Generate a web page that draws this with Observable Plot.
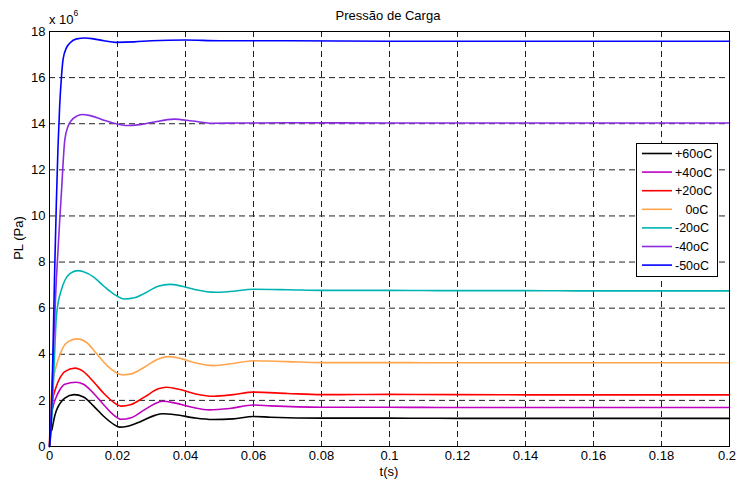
<!DOCTYPE html>
<html>
<head>
<meta charset="utf-8">
<script src="https://cdn.jsdelivr.net/npm/d3@7"></script>
<script src="https://cdn.jsdelivr.net/npm/@observablehq/plot@0.6"></script>
<style>
  html, body { margin: 0; padding: 0; background: #fff; }
  #chart { width: 736px; height: 481px; position: relative; }
</style>
</head>
<body>
<div id="chart"></div>
<script>
// ---- data (values in units of 10^6 Pa) ----
const seriesNames = ["+60oC", "+40oC", "+20oC", "   0oC", "-20oC", "-40oC", "-50oC"];
const seriesColors = ["#000000", "#bf00bf", "#ff0000", "#ffa54f", "#00b3b3", "#8a2be2", "#0000ff"];

const t60 = [0, 0.0003, 0.0007, 0.001, 0.0015, 0.002, 0.003, 0.0045, 0.0072, 0.01, 0.013, 0.016, 0.019, 0.0206, 0.023, 0.027, 0.031, 0.0333, 0.037, 0.0426, 0.048, 0.054, 0.06, 0.065, 0.08, 0.1, 0.12, 0.14, 0.16, 0.18, 0.2];
const p60 = [0, 0.65, 0.72, 0.95, 1.3, 1.55, 1.85, 2.1, 2.25, 2.15, 1.75, 1.3, 0.95, 0.84, 0.88, 1.1, 1.35, 1.42, 1.38, 1.24, 1.17, 1.2, 1.3, 1.27, 1.23, 1.23, 1.22, 1.22, 1.22, 1.22, 1.22];

const t40 = [0, 0.0003, 0.001, 0.002, 0.003, 0.0045, 0.0078, 0.01, 0.013, 0.016, 0.019, 0.021, 0.024, 0.028, 0.032, 0.0333, 0.037, 0.042, 0.047, 0.053, 0.06, 0.065, 0.08, 0.1, 0.12, 0.14, 0.16, 0.18, 0.2];
const p40 = [0, 1.0, 1.7, 2.15, 2.45, 2.7, 2.79, 2.7, 2.3, 1.8, 1.35, 1.18, 1.25, 1.6, 1.92, 1.96, 1.88, 1.7, 1.59, 1.65, 1.8, 1.76, 1.7, 1.7, 1.69, 1.69, 1.69, 1.69, 1.69];

const t20 = [0, 0.0003, 0.001, 0.002, 0.003, 0.0045, 0.0075, 0.01, 0.013, 0.016, 0.019, 0.021, 0.024, 0.028, 0.032, 0.0343, 0.038, 0.043, 0.0483, 0.054, 0.06, 0.07, 0.08, 0.1, 0.12, 0.14, 0.16, 0.18, 0.2];
const p20 = [0, 1.4, 2.1, 2.6, 2.95, 3.25, 3.4, 3.25, 2.8, 2.3, 1.9, 1.75, 1.82, 2.15, 2.5, 2.57, 2.48, 2.28, 2.18, 2.25, 2.36, 2.3, 2.25, 2.26, 2.25, 2.24, 2.24, 2.24, 2.24];

const t0 = [0, 0.0003, 0.001, 0.002, 0.003, 0.004, 0.0055, 0.0081, 0.011, 0.014, 0.017, 0.0213, 0.024, 0.028, 0.032, 0.0353, 0.039, 0.043, 0.0483, 0.054, 0.06, 0.07, 0.08, 0.1, 0.12, 0.14, 0.16, 0.18, 0.2];
const p0 = [0, 1.8, 2.8, 3.5, 3.95, 4.3, 4.55, 4.67, 4.5, 4.0, 3.5, 3.11, 3.15, 3.45, 3.8, 3.9, 3.8, 3.62, 3.51, 3.6, 3.72, 3.68, 3.64, 3.64, 3.63, 3.63, 3.63, 3.63, 3.63];

const tm20 = [0, 0.0007, 0.0013, 0.002, 0.0025, 0.0035, 0.0045, 0.006, 0.0083, 0.01, 0.013, 0.016, 0.019, 0.022, 0.025, 0.028, 0.032, 0.0353, 0.039, 0.043, 0.0488, 0.053, 0.06, 0.07, 0.08, 0.1, 0.12, 0.14, 0.16, 0.18, 0.2];
const pm20 = [0, 1.3, 3.3, 5.6, 6.2, 6.8, 7.2, 7.5, 7.63, 7.58, 7.35, 6.95, 6.6, 6.4, 6.45, 6.65, 6.95, 7.03, 6.95, 6.8, 6.69, 6.72, 6.82, 6.8, 6.77, 6.77, 6.76, 6.76, 6.75, 6.75, 6.75];

const tm40 = [0, 0.0005, 0.001, 0.0015, 0.002, 0.0025, 0.003, 0.0035, 0.0045, 0.0055, 0.0065, 0.008, 0.0095, 0.012, 0.016, 0.02, 0.023, 0.026, 0.03, 0.0366, 0.042, 0.048, 0.055, 0.07, 0.1, 0.12, 0.14, 0.16, 0.18, 0.2];
const pm40 = [0, 1.5, 3.5, 5.5, 7.2, 8.5, 9.8, 11.0, 13.3, 13.9, 14.15, 14.33, 14.4, 14.35, 14.15, 13.98, 13.92, 13.95, 14.05, 14.2, 14.12, 14.02, 14.03, 14.04, 14.03, 14.03, 14.03, 14.03, 14.03, 14.03];

const tm50 = [0, 0.0005, 0.001, 0.0015, 0.002, 0.0025, 0.003, 0.0035, 0.004, 0.005, 0.006, 0.008, 0.0105, 0.013, 0.016, 0.0194, 0.025, 0.03, 0.04, 0.05, 0.07, 0.1, 0.12, 0.14, 0.16, 0.18, 0.2];
const pm50 = [0, 1.0, 4.0, 7.5, 10.5, 13.0, 14.8, 16.0, 16.8, 17.3, 17.5, 17.68, 17.72, 17.68, 17.6, 17.53, 17.55, 17.6, 17.63, 17.6, 17.6, 17.58, 17.58, 17.58, 17.58, 17.58, 17.58];

const xTickLabels = ["0", "0.02", "0.04", "0.06", "0.08", "0.1", "0.12", "0.14", "0.16", "0.18", "0.2"];
const yTickLabels = ["0", "2", "4", "6", "8", "10", "12", "14", "16", "18"];

const titleText = "Pressão de Carga";
const xLabelText = "t(s)";
const yLabelText = "PL (Pa)";

// ---- build table ----
const seriesT = [t60, t40, t20, t0, tm20, tm40, tm50];
const seriesP = [p60, p40, p20, p0, pm20, pm40, pm50];
const rows = [];
seriesNames.forEach((name, i) => {
  seriesT[i].forEach((t, j) => rows.push({name, t, p: seriesP[i][j]}));
});
const xTicks = xTickLabels.map(Number);
const yTicks = yTickLabels.map(Number);

const font = "'Liberation Sans', Arial, Helvetica, sans-serif";
const fs = "13px";

const svg = Plot.plot({
  width: 736,
  height: 481,
  marginLeft: 49,
  marginRight: 7,
  marginTop: 31,
  marginBottom: 35,
  style: {fontFamily: font, fontSize: fs, color: "#000", background: "#fff", overflow: "visible"},
  x: {domain: [0, 0.2], ticks: xTicks, tickFormat: (d) => xTickLabels[xTicks.indexOf(d)] ?? String(d), tickSize: 0, tickPadding: 4, label: null},
  y: {domain: [0, 18], ticks: yTicks, tickFormat: (d) => String(d), tickSize: 0, tickPadding: 4, label: null},
  color: {domain: seriesNames, range: seriesColors},
  marks: [
    Plot.ruleX(xTicks, {stroke: "#222", strokeWidth: 1, strokeDasharray: "6,4"}),
    Plot.ruleY(yTicks, {stroke: "#222", strokeWidth: 1, strokeDasharray: "6,4"}),
    Plot.line(rows, {x: "t", y: "p", z: "name", stroke: "name", strokeWidth: 1.6, curve: "monotone-x"}),
    Plot.frame({stroke: "#000", strokeWidth: 1})
  ]
});

const root = d3.select(svg);
// axis tick labels sized to match the reference
root.selectAll("g[aria-label$='axis'], g[aria-label*='tick label']")
  .attr("font-size", 13).style("font-size", fs).style("font-family", font);
root.selectAll("g[aria-label*='tick label'] text, g[aria-label$='axis'] text")
  .style("font-size", fs).attr("fill", "#000");
// keep the last x label ("0.2") inside the picture, as in the reference
root.selectAll("g[aria-label*='x-axis'] text")
  .filter(function () { return this.textContent === xTickLabels[xTickLabels.length - 1]; })
  .attr("dx", -2.5);

function addText(x, y, str, anchor) {
  return root.append("text").attr("x", x).attr("y", y).attr("text-anchor", anchor)
    .style("font-family", font).style("font-size", fs).attr("fill", "#000").text(str);
}
// title
addText(388, 20, titleText, "middle");
// x 10^6
const mult = root.append("text").attr("x", 49).attr("y", 24).attr("text-anchor", "start")
  .style("font-family", font).style("font-size", fs).attr("fill", "#000");
mult.append("tspan").text("x 10");
mult.append("tspan").attr("dy", -8).style("font-size", "8.5px").text("6");
// axis labels
addText(389, 476, xLabelText, "middle");
root.append("text").attr("transform", "translate(23,238) rotate(-90)").attr("text-anchor", "middle")
  .style("font-family", font).style("font-size", fs).attr("fill", "#000").text(yLabelText);

// legend
const lg = root.append("g").attr("transform", "translate(636,143)");
lg.append("rect").attr("x", 0.5).attr("y", 0.5).attr("width", 81).attr("height", 133)
  .attr("fill", "#fff").attr("stroke", "#000").attr("stroke-width", 1);
seriesNames.forEach((name, i) => {
  const cy = 10.5 + i * 18.6;
  lg.append("line").attr("x1", 6).attr("x2", 36).attr("y1", cy).attr("y2", cy)
    .attr("stroke", seriesColors[i]).attr("stroke-width", 1.6);
  lg.append("text").attr("x", 39).attr("y", cy + 4.5).attr("text-anchor", "start")
    .style("font-family", font).style("font-size", "12.5px").style("white-space", "pre")
    .attr("xml:space", "preserve").attr("fill", "#000").text(name);
});

document.getElementById("chart").appendChild(svg);
</script>
</body>
</html>
